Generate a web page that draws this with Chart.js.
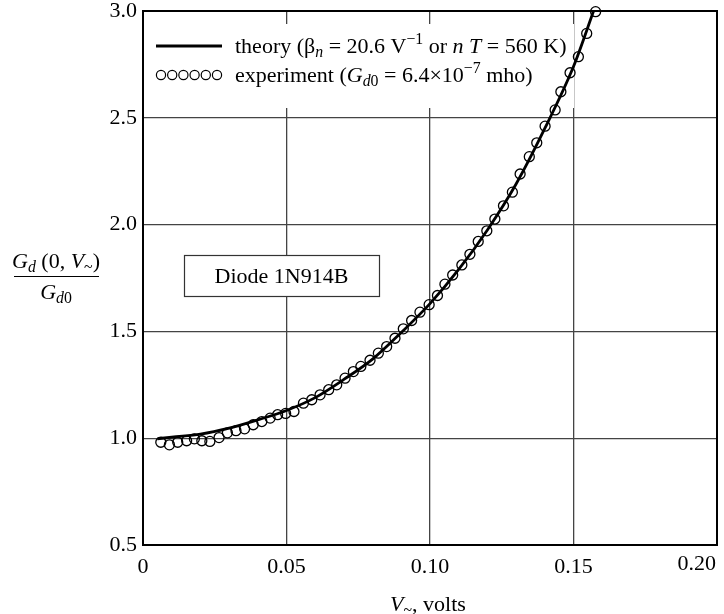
<!DOCTYPE html>
<html>
<head>
<meta charset="utf-8">
<script src="https://cdn.jsdelivr.net/npm/chart.js@4"></script>
<style>
  html, body { margin: 0; padding: 0; background: #fff; }
  canvas { display: block; }
</style>
</head>
<body>
<canvas id="diode" width="724" height="614"></canvas>
<script>
// experiment points (V~ in volts, Gd/Gd0)
const expX = [0.0062, 0.0092, 0.0121, 0.0152, 0.0179, 0.0205, 0.0233, 0.0265, 0.0294, 0.0324,
  0.0354, 0.0384, 0.0414, 0.0443, 0.0469, 0.0497, 0.0526, 0.0559, 0.0588, 0.0617,
  0.0647, 0.0675, 0.0704, 0.0733, 0.0759, 0.0791, 0.0820, 0.0849, 0.0878, 0.0907,
  0.0936, 0.0965, 0.0997, 0.1026, 0.1052, 0.1079, 0.1111, 0.1139, 0.1168, 0.1198,
  0.1226, 0.1256, 0.1287, 0.1314, 0.1346, 0.1372, 0.1401, 0.1436, 0.1456, 0.1488,
  0.1517, 0.1546, 0.1577];
const expY = [0.981, 0.969, 0.981, 0.988, 0.997, 0.988, 0.985, 1.003, 1.025, 1.035,
  1.044, 1.063, 1.078, 1.094, 1.110, 1.116, 1.125, 1.164, 1.180, 1.203,
  1.227, 1.250, 1.281, 1.312, 1.336, 1.365, 1.398, 1.429, 1.468, 1.512,
  1.551, 1.590, 1.625, 1.668, 1.721, 1.764, 1.811, 1.861, 1.921, 1.971,
  2.026, 2.088, 2.152, 2.237, 2.318, 2.383, 2.461, 2.537, 2.622, 2.711,
  2.786, 2.895, 2.997];

// theory curve
const theoryX = [0.005, 0.01, 0.02, 0.03, 0.04, 0.05, 0.06, 0.07, 0.08, 0.09,
  0.10, 0.11, 0.12, 0.13, 0.14, 0.15, 0.157];
const theoryY = [0.997, 1.005, 1.019, 1.047, 1.086, 1.13, 1.19, 1.275, 1.37, 1.495,
  1.63, 1.79, 1.975, 2.19, 2.45, 2.74, 3.0];

const xTicks = [0, 0.05, 0.10, 0.15, 0.20];
const xTickLabels = ['0', '0.05', '0.10', '0.15', '0.20'];
const yTicks = [0.5, 1.0, 1.5, 2.0, 2.5, 3.0];

const FONT = '"Liberation Serif", "DejaVu Serif", serif';

// draws text made of pieces (italic / sub / sup), returns width
function rich(ctx, x, y, parts, size, draw) {
  let cx = x;
  parts.forEach(p => {
    const small = p.sub || p.sup;
    const s = small ? size * 0.72 : size;
    ctx.font = (p.it ? 'italic ' : '') + s + 'px ' + FONT;
    const dy = p.sub ? size * 0.2 : (p.sup ? -size * 0.4 : 0);
    if (draw) ctx.fillText(p.t, cx, y + dy);
    cx += ctx.measureText(p.t).width;
  });
  return cx - x;
}

function richCenter(ctx, cx, y, parts, size) {
  const w = rich(ctx, 0, 0, parts, size, false);
  rich(ctx, cx - w / 2, y, parts, size, true);
}

const extras = {
  id: 'extras',
  beforeDraw(chart) {
    const ctx = chart.ctx;
    ctx.save();
    ctx.fillStyle = '#fff';
    ctx.fillRect(0, 0, chart.width, chart.height);
    ctx.restore();
  },
  beforeDatasetsDraw(chart) {
    const ctx = chart.ctx;
    const a = chart.chartArea;
    ctx.save();
    // white patch behind the legend
    ctx.fillStyle = '#fff';
    ctx.fillRect(a.left + 3, 24, 428, 84);

    // legend
    ctx.fillStyle = '#000';
    ctx.strokeStyle = '#000';
    ctx.lineWidth = 3;
    ctx.beginPath();
    ctx.moveTo(156, 46);
    ctx.lineTo(222, 46);
    ctx.stroke();
    ctx.lineWidth = 1.2;
    for (let i = 0; i < 6; i++) {
      ctx.beginPath();
      ctx.arc(161 + i * 11.2, 75, 4.6, 0, Math.PI * 2);
      ctx.stroke();
    }
    ctx.textBaseline = 'alphabetic';
    ctx.textAlign = 'left';
    rich(ctx, 235, 53, [
      { t: 'theory (β' }, { t: 'n', it: true, sub: true }, { t: ' = 20.6 V' },
      { t: '−1', sup: true }, { t: ' or ' }, { t: 'n', it: true }, { t: ' ' },
      { t: 'T', it: true }, { t: ' = 560 K)' }
    ], 22, true);
    rich(ctx, 235, 82, [
      { t: 'experiment (' }, { t: 'G', it: true }, { t: 'd', it: true, sub: true },
      { t: '0', sub: true }, { t: ' = 6.4×10' }, { t: '−7', sup: true }, { t: ' mho)' }
    ], 22, true);

    // Diode box
    ctx.lineWidth = 1.2;
    ctx.strokeStyle = '#333';
    ctx.fillStyle = '#fff';
    ctx.fillRect(184, 255, 195, 41);
    ctx.strokeRect(184.5, 255.5, 195, 41);
    ctx.fillStyle = '#000';
    ctx.font = '22px ' + FONT;
    ctx.textAlign = 'center';
    ctx.fillText('Diode 1N914B', 281.5, 283);
    ctx.restore();
  },
  afterDraw(chart) {
    const ctx = chart.ctx;
    const a = chart.chartArea;
    const xs = chart.scales.x;
    ctx.save();
    ctx.strokeStyle = '#000';
    ctx.lineWidth = 2;
    ctx.strokeRect(a.left, a.top, a.right - a.left, a.bottom - a.top);

    ctx.fillStyle = '#000';
    ctx.textBaseline = 'alphabetic';

    // x tick labels (last one kept inside the canvas, as in the print)
    ctx.font = '22px ' + FONT;
    xTicks.forEach((v, i) => {
      const px = xs.getPixelForValue(v);
      const last = i === xTicks.length - 1;
      ctx.textAlign = last ? 'right' : 'center';
      ctx.fillText(xTickLabels[i], last ? px - 1 : px, last ? 570 : 573);
    });

    ctx.textAlign = 'left';
    // y title as a fraction
    richCenter(ctx, 56, 268, [
      { t: 'G', it: true }, { t: 'd', it: true, sub: true }, { t: ' (0, ' },
      { t: 'V', it: true }, { t: '~', sub: true }, { t: ')' }
    ], 22);
    ctx.lineWidth = 1.2;
    ctx.beginPath();
    ctx.moveTo(14, 276.5);
    ctx.lineTo(99, 276.5);
    ctx.stroke();
    richCenter(ctx, 56, 299, [
      { t: 'G', it: true }, { t: 'd', it: true, sub: true }, { t: '0', sub: true }
    ], 22);

    // x title
    richCenter(ctx, 428, 611, [
      { t: 'V', it: true }, { t: '~', sub: true }, { t: ', volts' }
    ], 22);
    ctx.restore();
  }
};

const ctx = document.getElementById('diode').getContext('2d');
new Chart(ctx, {
  type: 'scatter',
  data: {
    datasets: [
      {
        label: 'theory',
        type: 'line',
        data: theoryX.map((x, i) => ({ x: x, y: theoryY[i] })),
        borderColor: '#000',
        borderWidth: 2.8,
        pointRadius: 0,
        cubicInterpolationMode: 'monotone',
        fill: false,
        clip: false,
        order: 1
      },
      {
        label: 'experiment',
        data: expX.map((x, i) => ({ x: x, y: expY[i] })),
        pointStyle: 'circle',
        pointRadius: 5,
        borderWidth: 1.3,
        borderColor: '#000',
        backgroundColor: 'rgba(0,0,0,0)',
        clip: false,
        order: 2
      }
    ]
  },
  options: {
    responsive: false,
    animation: false,
    devicePixelRatio: 1,
    layout: { padding: { top: 11, right: 7, left: 0, bottom: 0 } },
    plugins: {
      legend: { display: false },
      tooltip: { enabled: false }
    },
    scales: {
      x: {
        type: 'linear',
        min: 0,
        max: 0.2,
        afterBuildTicks: s => { s.ticks = xTicks.map(v => ({ value: v })); },
        afterFit: s => {
          s.height = 69;
          s.paddingLeft = 0; s.paddingRight = 0;
        },
        ticks: { display: false },
        grid: { color: '#444', lineWidth: 1.3, drawTicks: false },
        border: { display: false }
      },
      y: {
        min: 0.5,
        max: 3.0,
        afterBuildTicks: s => { s.ticks = yTicks.map(v => ({ value: v })); },
        afterFit: s => {
          s.width = 143;
          s.paddingTop = 0; s.paddingBottom = 0;
        },
        ticks: {
          color: '#000',
          padding: 6,
          font: { family: FONT, size: 22 },
          callback: v => v.toFixed(1)
        },
        grid: { color: '#444', lineWidth: 1.3, drawTicks: false },
        border: { display: false }
      }
    }
  },
  plugins: [extras]
});
</script>
</body>
</html>
